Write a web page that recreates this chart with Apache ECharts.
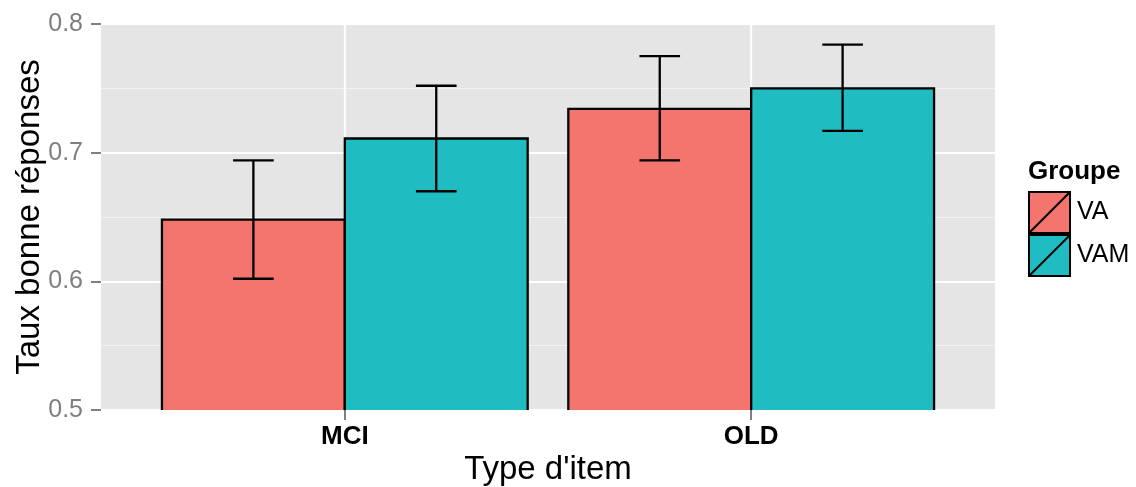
<!DOCTYPE html>
<html>
<head>
<meta charset="utf-8">
<script src="https://cdn.jsdelivr.net/npm/echarts@6/dist/echarts.min.js"></script>
<style>
html,body{margin:0;padding:0;background:#fff;}
#chart{width:1136px;height:487px;}
</style>
</head>
<body>
<div id="chart"></div>
<script>
// ---- data ----
const categories = ['MCI', 'OLD'];
const groups = ['VA', 'VAM'];
const vaValues = [0.648, 0.734];
const vaLower = [0.602, 0.694];
const vaUpper = [0.694, 0.775];
const vamValues = [0.711, 0.750];
const vamLower = [0.670, 0.717];
const vamUpper = [0.752, 0.784];
const yTicks = [0.5, 0.6, 0.7, 0.8];

const colors = { VA: '#F3756D', VAM: '#1FBDC2' };
const dodge = { VA: -1, VAM: 0 };  // bar occupies [cat + dodge*w, cat + (dodge+1)*w]
const barW = 0.45;
const capW = 0.1;
const catPos = categories.map((c, i) => i + 1);

function makeData(vals, lo, hi) {
  return categories.map((c, i) => [catPos[i], vals[i], lo[i], hi[i]]);
}

function barRenderer(name) {
  return function (params, api) {
    const cat = api.value(0), v = api.value(1), lo = api.value(2), hi = api.value(3);
    const left = cat + dodge[name] * barW;
    const right = left + barW;
    const pTL = api.coord([left, v]);
    const pBR = api.coord([right, 0]);
    const xc = (left + right) / 2;
    const eTop = api.coord([xc, hi]);
    const eBot = api.coord([xc, lo]);
    const capL = api.coord([xc - capW / 2, hi])[0];
    const capR = api.coord([xc + capW / 2, hi])[0];
    const lineStyle = { stroke: '#000', lineWidth: 2.3 };
    return {
      type: 'group',
      children: [
        { type: 'rect', shape: { x: pTL[0], y: pTL[1], width: pBR[0] - pTL[0], height: pBR[1] - pTL[1] },
          style: { fill: colors[name], stroke: '#000', lineWidth: 2.3 } },
        { type: 'line', shape: { x1: eTop[0], y1: eTop[1], x2: eBot[0], y2: eBot[1] }, style: lineStyle },
        { type: 'line', shape: { x1: capL, y1: eTop[1], x2: capR, y2: eTop[1] }, style: lineStyle },
        { type: 'line', shape: { x1: capL, y1: eBot[1], x2: capR, y2: eBot[1] }, style: lineStyle }
      ]
    };
  };
}

const chart = echarts.init(document.getElementById('chart'), null, { renderer: 'canvas' });
const FONT = '"Liberation Sans", Arial, Helvetica, sans-serif';

const option = {
  animation: false,
  textStyle: { fontFamily: FONT },
  title: {
    text: 'Groupe',
    left: 1028, top: 159, padding: 0,
    textStyle: { fontFamily: FONT, fontSize: 26, fontWeight: 'bold', color: '#000' }
  },
  legend: {
    data: groups.map(g => ({ name: g, itemStyle: { color: colors[g], borderColor: '#000', borderWidth: 2 } })),
    orient: 'vertical',
    left: 1028, top: 191, padding: 0,
    itemWidth: 41, itemHeight: 41, itemGap: 0,
    icon: 'path://M0,0L40,0L40,40L0,40Z M0,40L40,0',
    textStyle: { fontFamily: FONT, fontSize: 25, color: '#000', padding: [0, 0, 0, 2] },
    selectedMode: false
  },
  grid: {
    left: 101, right: 141, top: 24, bottom: 77,
    show: true, backgroundColor: '#E5E5E5', borderWidth: 0,
    containLabel: false,
    outerBoundsMode: 'none'
  },
  xAxis: {
    type: 'value', min: 0.4, max: 2.6,
    name: "Type d'item", nameLocation: 'middle', nameGap: 43, nameMoveOverlap: false,
    nameTextStyle: { fontFamily: FONT, fontSize: 33, color: '#000' },
    axisLine: { show: false },
    axisTick: { show: true, customValues: catPos, length: 10, lineStyle: { color: '#7F7F7F', width: 2 } },
    axisLabel: {
      customValues: catPos, margin: 14,
      formatter: v => categories[Math.round(v) - 1] || '',
      fontFamily: FONT, fontSize: 26, fontWeight: 'bold', color: '#000'
    },
    splitLine: { show: false }
  },
  yAxis: {
    type: 'value', min: yTicks[0], max: yTicks[yTicks.length - 1], interval: 0.1,
    name: 'Taux bonne réponses', nameLocation: 'middle', nameGap: 55, nameMoveOverlap: false,
    nameTextStyle: { fontFamily: FONT, fontSize: 33, color: '#000' },
    axisLine: { show: false },
    axisTick: { show: true, length: 10, lineStyle: { color: '#7F7F7F', width: 2 } },
    axisLabel: { margin: 18, formatter: v => v.toFixed(1), fontFamily: FONT, fontSize: 25, color: '#7F7F7F' },
    splitLine: { show: true, lineStyle: { color: '#FFFFFF', width: 2 } },
    minorTick: { show: false, splitNumber: 2 },
    minorSplitLine: { show: true, lineStyle: { color: '#F2F2F2', width: 1 } }
  },
  series: [
    {
      name: 'vgrid', type: 'custom', silent: true, z: 1,
      data: catPos.map(p => [p]),
      renderItem: function (params, api) {
        const x = api.value(0);
        const a = api.coord([x, yTicks[0]]);
        const b = api.coord([x, yTicks[yTicks.length - 1]]);
        return { type: 'line', shape: { x1: a[0], y1: a[1], x2: b[0], y2: b[1] }, style: { stroke: '#FFFFFF', lineWidth: 2 } };
      }
    },
    {
      name: 'VA', type: 'custom', clip: true, z: 2,
      itemStyle: { color: colors.VA },
      data: makeData(vaValues, vaLower, vaUpper),
      renderItem: barRenderer('VA')
    },
    {
      name: 'VAM', type: 'custom', clip: true, z: 3,
      itemStyle: { color: colors.VAM },
      data: makeData(vamValues, vamLower, vamUpper),
      renderItem: barRenderer('VAM')
    }
  ]
};
chart.setOption(option);
</script>
</body>
</html>
